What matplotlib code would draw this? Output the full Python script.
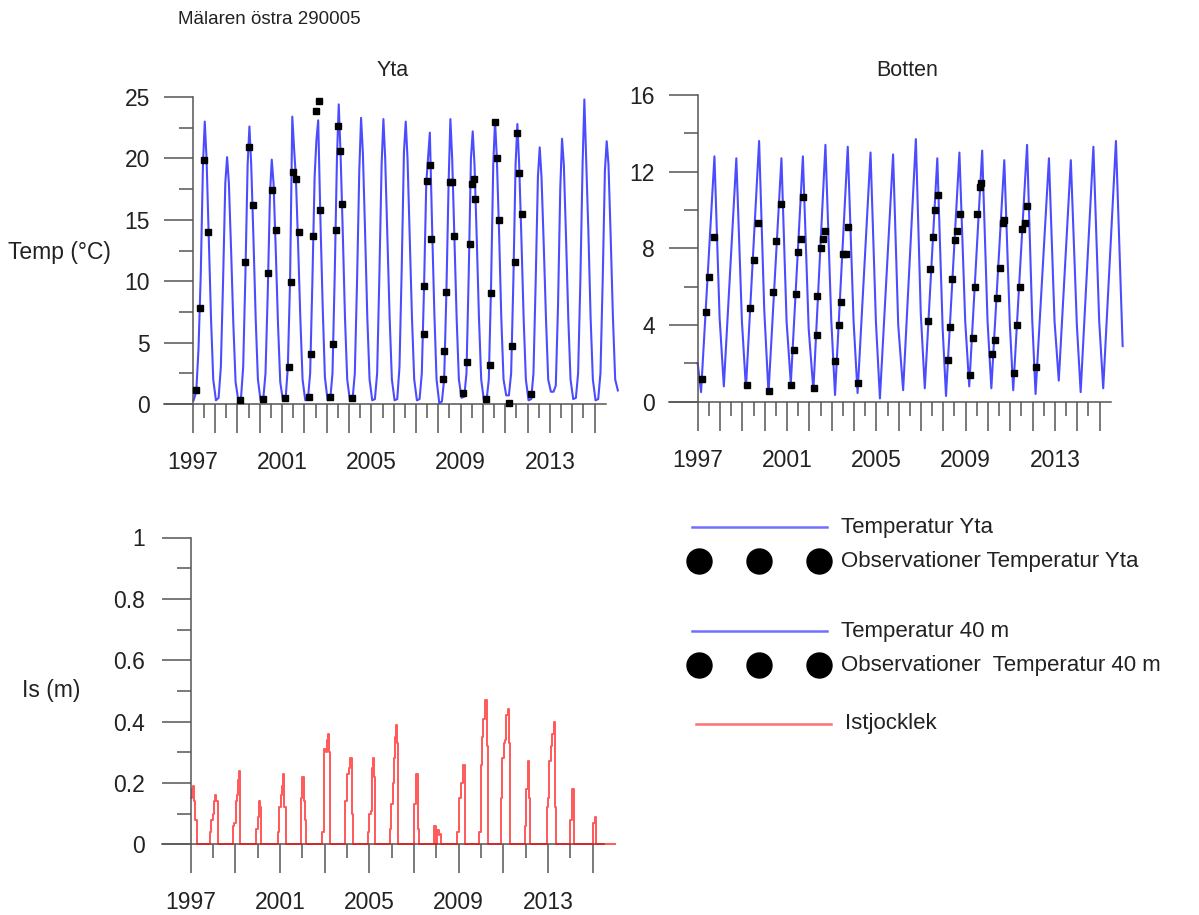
import numpy as np
import matplotlib
matplotlib.use("Agg")
from matplotlib import pyplot as plt

plt.rcParams["font.family"] = ["Liberation Sans", "DejaVu Sans"]

# ---------------- data ----------------
years = list(range(1997, 2016))

# surface temperature, one row per year, values at the fractions of the year below
yta_frac = [0.04, 0.16, 0.26, 0.36, 0.46, 0.54, 0.62, 0.72, 0.82, 0.92]
yta_cycles = [
    [0.3, 1.0, 4.5, 10.5, 19.5, 23.0, 20.0, 13.5, 7.0, 2.0],   # 1997
    [0.3, 0.5, 3.0, 10.0, 18.0, 20.1, 18.0, 12.5, 6.5, 1.8],   # 1998
    [0.3, 0.4, 3.0, 10.5, 19.5, 22.6, 19.5, 13.5, 7.0, 2.0],   # 1999
    [0.3, 0.4, 2.5, 9.0, 17.0, 19.9, 18.0, 12.5, 6.5, 1.8],    # 2000
    [0.3, 0.4, 3.0, 10.0, 23.4, 20.8, 18.5, 13.0, 7.0, 2.0],   # 2001
    [0.3, 0.4, 2.5, 10.0, 18.5, 21.5, 23.1, 15.0, 8.0, 2.2],   # 2002
    [0.3, 0.4, 2.5, 10.5, 20.0, 24.4, 20.5, 14.0, 7.0, 2.0],   # 2003
    [0.3, 0.4, 2.5, 10.0, 19.0, 23.3, 20.5, 14.0, 7.0, 2.0],   # 2004
    [0.3, 0.4, 2.5, 10.5, 19.5, 23.2, 20.0, 13.5, 7.0, 2.0],   # 2005
    [0.3, 0.4, 3.0, 11.0, 20.5, 23.0, 20.0, 13.5, 7.0, 2.0],   # 2006
    [0.3, 0.4, 2.5, 9.5, 18.0, 20.0, 22.1, 14.5, 7.5, 2.0],    # 2007
    [0.1, 0.2, 2.0, 9.0, 18.0, 23.2, 20.0, 13.5, 7.0, 2.0],    # 2008
    [0.5, 0.6, 2.5, 10.5, 20.0, 22.2, 19.5, 13.5, 7.0, 2.0],   # 2009
    [0.3, 0.3, 2.0, 9.5, 19.5, 23.1, 20.0, 14.0, 7.0, 2.0],    # 2010
    [0.7, 0.7, 2.5, 10.0, 19.5, 22.8, 19.5, 13.5, 7.0, 2.0],   # 2011
    [0.3, 0.4, 2.5, 10.0, 18.5, 20.9, 18.5, 13.0, 7.0, 2.0],   # 2012
    [1.0, 1.0, 1.5, 8.0, 17.5, 21.6, 19.5, 13.5, 7.0, 2.0],    # 2013
    [0.4, 0.5, 2.5, 10.0, 19.5, 24.8, 20.0, 14.0, 7.0, 2.0],   # 2014
    [0.3, 0.4, 2.5, 10.0, 19.0, 21.4, 19.5, 13.5, 7.0, 2.0],   # 2015
]
yta_end_t, yta_end_v = 2016.04, 1.1

yta_obs_t = [1997.13, 1997.33, 1997.52, 1997.67, 1999.12, 1999.35, 1999.51, 1999.72,
             2000.14, 2000.35, 2000.54, 2000.72, 2001.14, 2001.32, 2001.41, 2001.51,
             2001.62, 2001.74, 2002.22, 2002.29, 2002.37, 2002.52, 2002.64, 2002.68,
             2003.16, 2003.28, 2003.41, 2003.50, 2003.61, 2003.68, 2004.13, 2007.34,
             2007.37, 2007.49, 2007.61, 2007.69, 2008.20, 2008.27, 2008.35, 2008.51,
             2008.61, 2008.69, 2009.09, 2009.29, 2009.41, 2009.51, 2009.59, 2009.66,
             2010.14, 2010.33, 2010.36, 2010.53, 2010.63, 2010.71, 2011.16, 2011.30,
             2011.42, 2011.53, 2011.63, 2011.75, 2012.13]
yta_obs_v = [1.1, 7.8, 19.9, 14.0, 0.3, 11.6, 20.9, 16.2,
             0.4, 10.7, 17.4, 14.2, 0.5, 3.0, 9.9, 18.9,
             18.3, 14.0, 0.6, 4.1, 13.7, 23.9, 24.7, 15.8,
             0.6, 4.9, 14.2, 22.6, 20.6, 16.3, 0.5, 5.7,
             9.6, 18.2, 19.5, 13.4, 2.0, 4.3, 9.1, 18.1,
             18.1, 13.7, 0.9, 3.4, 13.0, 17.9, 18.3, 16.7,
             0.4, 3.2, 9.0, 23.0, 20.0, 15.0, 0.05, 4.7,
             11.6, 22.1, 18.8, 15.5, 0.8]

# bottom (40 m) temperature: start, then per year minimum, peak and late-autumn value
bot_start_t, bot_start_v = 1997.00, 2.0
bot_min_t = [1997.15, 1998.17, 1999.16, 2000.17, 2001.17, 2002.18, 2003.15, 2004.16, 2005.16,
             2006.20, 2007.17, 2008.12, 2009.16, 2010.15, 2011.13, 2012.13, 2013.17, 2014.15, 2015.16]
bot_min_v = [0.5, 0.8, 0.7, 0.45, 0.95, 0.6, 0.35, 0.45, 0.17,
             0.6, 0.7, 0.3, 0.8, 0.7, 0.6, 0.4, 1.1, 0.5, 0.7]
bot_peak_t = [1997.75, 1998.73, 1999.75, 2000.75, 2001.71, 2002.72, 2003.72, 2004.74, 2005.75,
              2006.77, 2007.73, 2008.72, 2009.74, 2010.73, 2011.75, 2012.73, 2013.71, 2014.72, 2015.73]
bot_peak_v = [12.8, 12.7, 13.6, 12.7, 12.8, 13.4, 13.3, 13.0, 12.9,
              13.7, 12.7, 13.0, 13.1, 12.6, 13.4, 12.7, 12.6, 13.3, 13.6]
bot_fall_t = [1997.98, 1998.98, 1999.98, 2000.98, 2001.97, 2002.98, 2003.98, 2004.98, 2005.98,
              2006.99, 2007.97, 2008.98, 2009.98, 2010.98, 2011.98, 2012.98, 2013.98, 2014.98, 2016.03]
bot_fall_v = [4.4, 4.2, 4.8, 4.2, 3.8, 4.3, 4.2, 4.2, 4.0,
              4.6, 3.8, 4.2, 4.2, 4.0, 4.3, 4.2, 4.0, 4.2, 2.9]

bot_obs_t = [1997.19, 1997.35, 1997.51, 1997.72, 1999.19, 1999.35, 1999.51, 1999.72,
             2000.18, 2000.39, 2000.52, 2000.74, 2001.16, 2001.32, 2001.40, 2001.51,
             2001.62, 2001.72, 2002.20, 2002.33, 2002.36, 2002.52, 2002.63, 2002.71,
             2003.14, 2003.35, 2003.40, 2003.51, 2003.64, 2003.72, 2004.20, 2007.32,
             2007.40, 2007.54, 2007.62, 2007.75, 2008.23, 2008.31, 2008.39, 2008.52,
             2008.63, 2008.74, 2009.19, 2009.32, 2009.40, 2009.51, 2009.64, 2009.70,
             2010.20, 2010.31, 2010.42, 2010.55, 2010.66, 2010.71, 2011.16, 2011.32,
             2011.43, 2011.54, 2011.64, 2011.75, 2012.15]
bot_obs_v = [1.2, 4.7, 6.5, 8.6, 0.85, 4.9, 7.4, 9.3,
             0.56, 5.7, 8.4, 10.3, 0.85, 2.7, 5.6, 7.8,
             8.5, 10.7, 0.7, 3.5, 5.5, 8.0, 8.5, 8.9,
             2.1, 4.0, 5.2, 7.7, 7.7, 9.1, 1.0, 4.2,
             6.9, 8.6, 10.0, 10.8, 2.15, 3.9, 6.4, 8.45,
             8.9, 9.8, 1.37, 3.3, 6.0, 9.8, 11.2, 11.4,
             2.5, 3.2, 5.4, 7.0, 9.3, 9.5, 1.5, 4.0,
             6.0, 9.0, 9.3, 10.2, 1.8]

# ice thickness (m), step values
ice_t = [1997.00, 1997.04, 1997.10, 1997.16, 1997.20, 1997.26,
         1997.88, 1997.93, 1998.00, 1998.05, 1998.10, 1998.14, 1998.22,
         1998.90, 1998.95, 1999.03, 1999.08, 1999.12, 1999.17, 1999.23,
         1999.93, 2000.00, 2000.04, 2000.09, 2000.15,
         2000.90, 2000.97, 2001.03, 2001.07, 2001.12, 2001.16, 2001.26,
         2001.92, 2002.00, 2002.06, 2002.12, 2002.16,
         2002.89, 2002.95, 2002.98, 2003.04, 2003.10, 2003.14, 2003.21, 2003.24,
         2003.92, 2004.00, 2004.07, 2004.15, 2004.23, 2004.28,
         2004.93, 2005.00, 2005.08, 2005.13, 2005.18, 2005.21, 2005.25,
         2005.92, 2005.99, 2006.05, 2006.10, 2006.14, 2006.19, 2006.22, 2006.28,
         2007.00, 2007.08, 2007.16, 2007.23,
         2007.90, 2007.98, 2008.05, 2008.12, 2008.18, 2008.23,
         2008.92, 2009.01, 2009.09, 2009.19, 2009.27, 2009.30,
         2009.93, 2010.00, 2010.05, 2010.09, 2010.20, 2010.28, 2010.32,
         2010.89, 2010.95, 2011.02, 2011.08, 2011.14, 2011.23, 2011.27, 2011.30,
         2011.96, 2012.03, 2012.11, 2012.16, 2012.20,
         2012.96, 2013.00, 2013.05, 2013.12, 2013.19, 2013.25, 2013.31, 2013.36,
         2014.00, 2014.06, 2014.18,
         2015.02, 2015.10, 2015.14, 2016.00]
ice_v = [0.15, 0.18, 0.19, 0.14, 0.08, 0.0,
         0.04, 0.08, 0.10, 0.14, 0.16, 0.14, 0.0,
         0.06, 0.07, 0.14, 0.16, 0.21, 0.24, 0.0,
         0.05, 0.09, 0.14, 0.12, 0.0,
         0.04, 0.12, 0.16, 0.19, 0.23, 0.12, 0.0,
         0.15, 0.22, 0.14, 0.08, 0.0,
         0.04, 0.18, 0.31, 0.30, 0.34, 0.36, 0.30, 0.0,
         0.14, 0.23, 0.25, 0.28, 0.10, 0.0,
         0.04, 0.10, 0.11, 0.25, 0.28, 0.22, 0.0,
         0.05, 0.13, 0.20, 0.28, 0.35, 0.39, 0.33, 0.0,
         0.13, 0.23, 0.05, 0.0,
         0.06, 0.0, 0.045, 0.03, 0.035, 0.0,
         0.04, 0.15, 0.20, 0.26, 0.17, 0.0,
         0.04, 0.26, 0.35, 0.41, 0.47, 0.32, 0.0,
         0.15, 0.28, 0.33, 0.34, 0.42, 0.44, 0.33, 0.0,
         0.06, 0.18, 0.27, 0.15, 0.0,
         0.12, 0.15, 0.27, 0.32, 0.36, 0.40, 0.12, 0.0,
         0.08, 0.18, 0.0,
         0.07, 0.09, 0.0, 0.0]

label_years = [1997, 2001, 2005, 2009, 2013]

# ---------------- layout ----------------
W, H = 1199, 915
PX_YR = 22.33
GRAY = "#555555"
TXT = "#222222"
FS = 16.5

fig = plt.figure(figsize=(W / 100, H / 100), dpi=100)


def panel(x0, y0, hpx, ymax, major, minor, ylabels, xmajor, xminor, pad_y):
    xmax = 2016.2
    ax = fig.add_axes([x0 / W, (H - y0) / H, (xmax - 1997) * PX_YR / W, hpx / H])
    ax.set_xlim(1997, xmax)
    ax.set_ylim(0, ymax)
    for s in ["top", "right", "bottom"]:
        ax.spines[s].set_visible(False)
    ax.spines["left"].set_color(GRAY)
    ax.spines["left"].set_linewidth(1.1)
    ax.set_yticks(major)
    ax.set_yticklabels(ylabels)
    ax.set_yticks(minor, minor=True)
    ax.set_xticks(xmajor)
    ax.set_xticklabels([str(y) if y in label_years else "" for y in xmajor])
    ax.set_xticks(xminor, minor=True)
    ax.tick_params(which="major", length=20.7, width=1.1, color=GRAY,
                   labelsize=FS, labelcolor=TXT)
    ax.tick_params(which="minor", length=10.4, width=1.1, color=GRAY)
    ax.tick_params(axis="x", which="major", pad=13)
    ax.tick_params(axis="y", which="major", pad=pad_y)
    # x axis line, starting at the end of the zero tick
    ax.plot([1997 - 28.7 / PX_YR, 2015.5], [0, 0], color=GRAY, lw=1.1,
            clip_on=False, zorder=1)
    return ax


top_xmajor = list(range(1997, 2016))
top_xminor = list(np.arange(1997.5, 2015, 1.0))

ax1 = panel(192.7, 404, 307, 25, [0, 5, 10, 15, 20, 25], [2.5, 7.5, 12.5, 17.5, 22.5],
            ["0", "5", "10", "15", "20", "25"], top_xmajor, top_xminor, 10)
yta_t = [y + f for y in years for f in yta_frac] + [yta_end_t]
yta_v = [v for row in yta_cycles for v in row] + [yta_end_v]
ax1.plot(yta_t, yta_v, color="#0000ff", alpha=0.7, lw=1.5, zorder=2, clip_on=False)
ax1.plot(yta_obs_t, yta_obs_v, "s", color="black", ms=5, zorder=3, clip_on=False)

ax2 = panel(697.7, 401.7, 306.7, 16, [0, 4, 8, 12, 16], [2, 6, 10, 14],
            ["0", "4", "8", "12", "16"], top_xmajor, top_xminor, 10)
bot_t = [bot_start_t]
bot_v = [bot_start_v]
for i in range(len(years)):
    bot_t += [bot_min_t[i], bot_peak_t[i], bot_fall_t[i]]
    bot_v += [bot_min_v[i], bot_peak_v[i], bot_fall_v[i]]
ax2.plot(bot_t, bot_v, color="#0000ff", alpha=0.7, lw=1.5, zorder=2, clip_on=False)
ax2.plot(bot_obs_t, bot_obs_v, "s", color="black", ms=5, zorder=3, clip_on=False)

ax3 = panel(190.7, 844.3, 306.8, 1, [0, 0.2, 0.4, 0.6, 0.8, 1.0],
            [0.1, 0.3, 0.5, 0.7, 0.9], ["0", "0.2", "0.4", "0.6", "0.8", "1"],
            list(range(1997, 2016, 2)), list(range(1998, 2015, 2)), 12)
ax3.plot(ice_t, ice_v, color="#ff0000", alpha=0.65, lw=1.4, drawstyle="steps-post",
         zorder=2, clip_on=False)

# ---------------- texts ----------------
fig.text(178 / W, 1 - 19 / H, "Mälaren östra 290005", fontsize=13.5, color=TXT,
         ha="left", va="center")
fig.text(393 / W, 1 - 70 / H, "Yta", fontsize=15.5, color=TXT, ha="center", va="center")
fig.text(907 / W, 1 - 70 / H, "Botten", fontsize=15.5, color=TXT, ha="center", va="center")
fig.text(8 / W, 1 - 252 / H, "Temp (°C)", fontsize=FS, color=TXT, ha="left", va="center")
fig.text(22 / W, 1 - 690 / H, "Is (m)", fontsize=FS, color=TXT, ha="left", va="center")

# ---------------- legend ----------------
leg = fig.add_axes([0, 0, 1, 1])
leg.set_xlim(0, W)
leg.set_ylim(H, 0)
leg.axis("off")
leg.patch.set_visible(False)
blue_leg = "#7070ff"
leg.plot([692, 827], [527, 527], color=blue_leg, lw=1.8)
leg.plot([699, 759, 819], [561, 561, 561], "o", color="black", ms=18)
leg.plot([692, 827], [631, 631], color=blue_leg, lw=1.8)
leg.plot([699, 759, 819], [665, 665, 665], "o", color="black", ms=18)
leg.plot([696, 831], [724, 724], color="#ff7070", lw=1.8)
leg_kw = dict(fontsize=16, color=TXT, ha="left", va="center")
leg.text(841, 527, "Temperatur Yta", **leg_kw)
leg.text(841, 561, "Observationer Temperatur Yta", **leg_kw)
leg.text(841, 631, "Temperatur 40 m", **leg_kw)
leg.text(841, 665, "Observationer  Temperatur 40 m", **leg_kw)
leg.text(845, 724, "Istjocklek", **leg_kw)

fig.savefig("out.png", dpi=100)
